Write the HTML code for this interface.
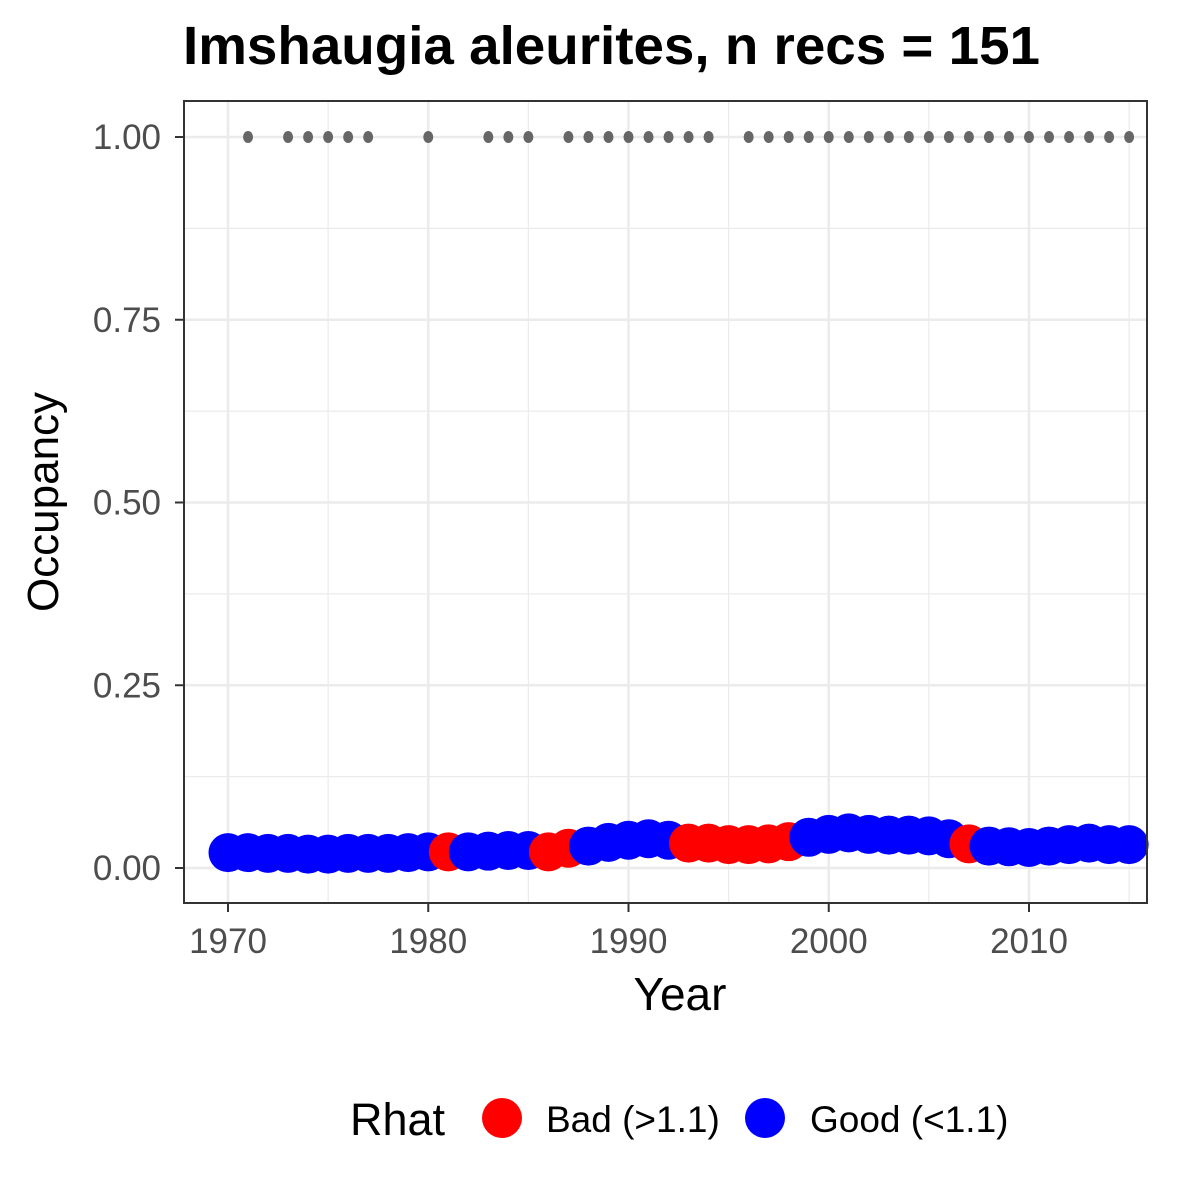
<!DOCTYPE html>
<html><head><meta charset="utf-8"><style>body{margin:0;background:#fff}svg{display:block}text{font-family:"Liberation Sans",Arial,sans-serif}</style></head>
<body>
<svg id="chart" width="1200" height="1200" viewBox="0 0 1200 1200">
<rect width="1200" height="1200" fill="#fff"/>
<text x="183" y="64" font-size="54" font-weight="bold" fill="#000" textLength="857" lengthAdjust="spacingAndGlyphs">Imshaugia aleurites, n recs = 151</text>
<g id="grid"></g>
<g id="marks"></g>
<rect x="184" y="101" width="963" height="802" fill="none" stroke="#333" stroke-width="2"/>
<g id="axes"></g>
<text x="680" y="1010" font-size="46" text-anchor="middle" fill="#000">Year</text>
<text transform="translate(58,502) rotate(-90)" font-size="44" text-anchor="middle" fill="#000">Occupancy</text>
<g>
<text x="350" y="1135" font-size="45" fill="#000">Rhat</text>
<circle cx="502" cy="1118" r="20" fill="#ff0000"/>
<text x="546" y="1132" font-size="37" fill="#000">Bad (&gt;1.1)</text>
<circle cx="765" cy="1118" r="20" fill="#0000ff"/>
<text x="810" y="1132" font-size="37" fill="#000">Good (&lt;1.1)</text>
</g>
</svg>
<script>
const years=[1970,1971,1972,1973,1974,1975,1976,1977,1978,1979,1980,1981,1982,1983,1984,1985,1986,1987,1988,1989,1990,1991,1992,1993,1994,1995,1996,1997,1998,1999,2000,2001,2002,2003,2004,2005,2006,2007,2008,2009,2010,2011,2012,2013,2014,2015];
const occupancy=[0.021,0.021,0.020,0.020,0.019,0.019,0.020,0.020,0.020,0.021,0.022,0.022,0.022,0.023,0.024,0.024,0.022,0.027,0.030,0.035,0.038,0.040,0.038,0.034,0.034,0.032,0.032,0.033,0.036,0.042,0.046,0.048,0.046,0.045,0.045,0.044,0.040,0.033,0.030,0.029,0.028,0.030,0.032,0.034,0.032,0.032];
const rhatBad=[1981,1986,1987,1993,1994,1995,1996,1997,1998,2007];
const recordYears=[1971,1973,1974,1975,1976,1977,1980,1983,1984,1985,1987,1988,1989,1990,1991,1992,1993,1994,1996,1997,1998,1999,2000,2001,2002,2003,2004,2005,2006,2007,2008,2009,2010,2011,2012,2013,2014,2015];
const xTicks=[1970,1980,1990,2000,2010];
const yTicks=[0,0.25,0.5,0.75,1.0];
const yTickLabels=["0.00","0.25","0.50","0.75","1.00"];
const NS='http://www.w3.org/2000/svg';
const x=v=>228+(v-1970)*20.025;
const y=v=>868-v*731;
function mk(tag,attrs,parent){const e=document.createElementNS(NS,tag);for(const k in attrs)e.setAttribute(k,attrs[k]);parent.appendChild(e);return e;}
const grid=document.getElementById('grid'),marks=document.getElementById('marks'),axes=document.getElementById('axes');
mk('rect',{x:184,y:101,width:963,height:802,fill:'#fff'},grid);
for(let i=0;i<xTicks.length;i++){const m=xTicks[i]+5;if(x(m)<1147){const l=mk('line',{x1:x(m),x2:x(m),y1:101,y2:903,stroke:'#ebebeb','stroke-width':1.2},grid);}}
for(let i=0;i<yTicks.length-1;i++){const m=(yTicks[i]+yTicks[i+1])/2;const l=mk('line',{x1:184,x2:1147,y1:y(m),y2:y(m),stroke:'#ebebeb','stroke-width':1.2},grid);}
xTicks.forEach(t=>{const l=mk('line',{x1:x(t),x2:x(t),y1:101,y2:903,stroke:'#ebebeb','stroke-width':2.5},grid);
const tk=mk('line',{x1:x(t),x2:x(t),y1:903,y2:912,stroke:'#333','stroke-width':2},axes);
const tx=mk('text',{x:x(t),y:953,'font-size':35,'text-anchor':'middle',fill:'#4d4d4d'},axes);tx.textContent=t;});
yTicks.forEach((t,i)=>{const l=mk('line',{x1:184,x2:1147,y1:y(t),y2:y(t),stroke:'#ebebeb','stroke-width':2.5},grid);
const tk=mk('line',{x1:175,x2:184,y1:y(t),y2:y(t),stroke:'#333','stroke-width':2},axes);
const tx=mk('text',{x:161,y:y(t)+12,'font-size':35,'text-anchor':'end',fill:'#4d4d4d'},axes);tx.textContent=yTickLabels[i];});
recordYears.forEach(yr=>{const c=mk('ellipse',{cx:x(yr),cy:y(1),rx:5,ry:6,fill:'#666'},marks);});
years.forEach((yr,i)=>{const bad=rhatBad.includes(yr);const c=mk('circle',{cx:x(yr),cy:y(occupancy[i]),r:19.5,fill:bad?'#ff0000':'#0000ff'},marks);});
</script>
</body></html>
